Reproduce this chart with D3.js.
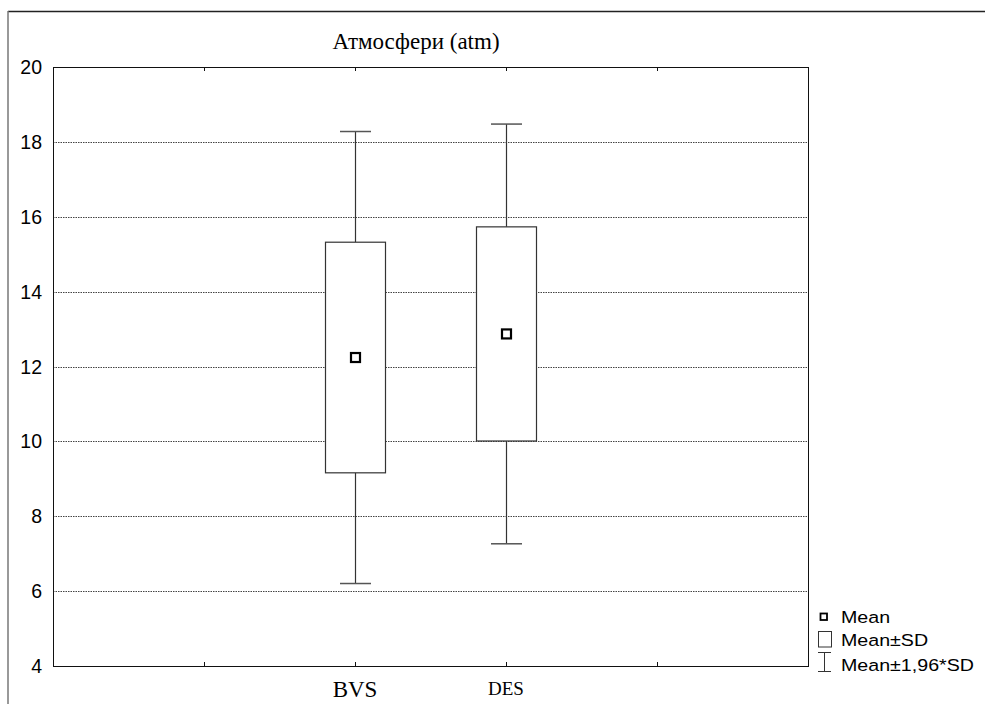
<!DOCTYPE html>
<html>
<head>
<meta charset="utf-8">
<script src="https://cdn.jsdelivr.net/npm/d3@7/dist/d3.min.js"></script>
<style>
  html, body { margin: 0; padding: 0; background: #fff; }
  svg { display: block; }
</style>
</head>
<body>
<svg id="chart" width="985" height="704"></svg>
<script>
// Categories and summary statistics (atm)
const categories = ["BVS", "DES"];
const means = [12.24, 12.87];
const sds = [3.08, 2.86];
const yTicks = [4, 6, 8, 10, 12, 14, 16, 18, 20];
const gridTicks = [6, 8, 10, 12, 14, 16, 18];
const legendLabels = ["Mean", "Mean±SD", "Mean±1,96*SD"];
const titleText = "Атмосфери (atm)";

const SERIF = "'Liberation Serif', 'Times New Roman', 'DejaVu Serif', serif";
const SANS = "'Liberation Sans', Arial, Helvetica, sans-serif";

const svg = d3.select("#chart");
const margin = { left: 53, right: 177, top: 67, bottom: 38 };
const W = 985, H = 704;
const plotRight = W - margin.right;
const plotBottom = H - margin.bottom;

// Outer frame (top and left edges)
svg.append("line").attr("x1", 8).attr("x2", W).attr("y1", 11.5).attr("y2", 11.5)
  .attr("stroke", "#222").attr("stroke-width", 1.5);
svg.append("line").attr("x1", 8).attr("x2", 8).attr("y1", 11).attr("y2", H)
  .attr("stroke", "#777").attr("stroke-width", 1.5);

// Scales: point slots with empty positions at each end
const slots = ["_a", ...categories, "_b"];
const x = d3.scalePoint().domain(slots).range([margin.left, plotRight]).padding(1);
const y = d3.scaleLinear().domain([4, 20]).range([plotBottom, margin.top]);

// Gridlines
svg.append("g").selectAll("line").data(gridTicks).join("line")
  .attr("x1", margin.left).attr("x2", plotRight)
  .attr("y1", d => Math.round(y(d)) + 0.5).attr("y2", d => Math.round(y(d)) + 0.5)
  .attr("stroke", "#444").attr("stroke-width", 1).attr("stroke-dasharray", "1.5,1");

// Plot frame
svg.append("rect")
  .attr("x", margin.left + 0.5).attr("y", margin.top + 0.5)
  .attr("width", plotRight - margin.left).attr("height", plotBottom - margin.top)
  .attr("fill", "none").attr("stroke", "#111").attr("stroke-width", 1);

// Inner ticks on top and bottom edges
svg.append("g").selectAll("line").data(slots).join("line")
  .attr("x1", d => Math.round(x(d)) + 0.5).attr("x2", d => Math.round(x(d)) + 0.5)
  .attr("y1", plotBottom).attr("y2", plotBottom - 4)
  .attr("stroke", "#111");
svg.append("g").selectAll("line").data(slots).join("line")
  .attr("x1", d => Math.round(x(d)) + 0.5).attr("x2", d => Math.round(x(d)) + 0.5)
  .attr("y1", margin.top).attr("y2", margin.top + 4)
  .attr("stroke", "#111");

// Y axis labels
svg.append("g").selectAll("text").data(yTicks).join("text")
  .attr("x", 42).attr("y", d => y(d))
  .attr("dy", "0.36em")
  .attr("text-anchor", "end")
  .attr("font-family", SANS)
  .attr("font-size", 19.5)
  .attr("fill", "#000")
  .text(d => d);

// X axis labels
const xLabelSizes = { BVS: 23, DES: 19 };
const xLabelBase = { BVS: 697, DES: 695 };
svg.append("g").selectAll("text").data(categories).join("text")
  .attr("x", d => x(d))
  .attr("y", d => xLabelBase[d])
  .attr("text-anchor", "middle")
  .attr("font-family", SERIF)
  .attr("font-size", d => xLabelSizes[d])
  .attr("fill", "#000")
  .text(d => d);

// Title
svg.append("text")
  .attr("x", 416).attr("y", 49)
  .attr("text-anchor", "middle")
  .style("font-family", SERIF)
  .style("font-size", "23px")
  .attr("fill", "#000")
  .text(titleText);

// Box-whisker groups
const stats = categories.map((c, i) => ({
  cat: c,
  mean: means[i],
  lo: means[i] - sds[i],
  hi: means[i] + sds[i],
  wlo: means[i] - 1.96 * sds[i],
  whi: means[i] + 1.96 * sds[i]
}));
const boxW = 60, capW = 31;
const g = svg.append("g").selectAll("g").data(stats).join("g");
const cx = d => Math.round(x(d.cat)) + 0.5;

// whiskers
g.append("line").attr("x1", cx).attr("x2", cx)
  .attr("y1", d => y(d.whi)).attr("y2", d => y(d.hi))
  .attr("stroke", "#333").attr("stroke-width", 1.2);
g.append("line").attr("x1", cx).attr("x2", cx)
  .attr("y1", d => y(d.lo)).attr("y2", d => y(d.wlo))
  .attr("stroke", "#333").attr("stroke-width", 1.2);
// caps
g.append("line").attr("x1", d => cx(d) - capW / 2).attr("x2", d => cx(d) + capW / 2)
  .attr("y1", d => y(d.whi)).attr("y2", d => y(d.whi))
  .attr("stroke", "#555").attr("stroke-width", 1.5);
g.append("line").attr("x1", d => cx(d) - capW / 2).attr("x2", d => cx(d) + capW / 2)
  .attr("y1", d => y(d.wlo)).attr("y2", d => y(d.wlo))
  .attr("stroke", "#555").attr("stroke-width", 1.5);
// box
g.append("rect")
  .attr("x", d => cx(d) - boxW / 2).attr("width", boxW)
  .attr("y", d => y(d.hi)).attr("height", d => y(d.lo) - y(d.hi))
  .attr("fill", "#fff").attr("stroke", "#333").attr("stroke-width", 1.2);
// mean marker
g.append("rect")
  .attr("x", d => cx(d) - 4.5).attr("y", d => y(d.mean) - 4.5)
  .attr("width", 9).attr("height", 9)
  .attr("fill", "#fff").attr("stroke", "#000").attr("stroke-width", 2.2);

// Legend (glyphs are drawn slightly wide)
const lg = svg.append("g");
const legendY = [623, 646, 671];
lg.selectAll("text").data(legendLabels).join("text")
  .attr("transform", (d, i) => `translate(841,${legendY[i]}) scale(1.155,1)`)
  .attr("font-family", SANS)
  .attr("font-size", 17)
  .attr("fill", "#000").text(d => d);
// mean symbol
lg.append("rect").attr("x", 820.5).attr("y", 613.5).attr("width", 6.5).attr("height", 6.5)
  .attr("fill", "#fff").attr("stroke", "#000").attr("stroke-width", 1.8);
// box symbol
lg.append("rect").attr("x", 818.5).attr("y", 631.5).attr("width", 13).attr("height", 15.5)
  .attr("fill", "#fff").attr("stroke", "#333").attr("stroke-width", 1);
// whisker symbol
lg.append("line").attr("x1", 818).attr("x2", 831).attr("y1", 652.5).attr("y2", 652.5).attr("stroke", "#333");
lg.append("line").attr("x1", 818).attr("x2", 831).attr("y1", 671.5).attr("y2", 671.5).attr("stroke", "#333");
lg.append("line").attr("x1", 824.5).attr("x2", 824.5).attr("y1", 652.5).attr("y2", 671.5).attr("stroke", "#333");
</script>
</body>
</html>
